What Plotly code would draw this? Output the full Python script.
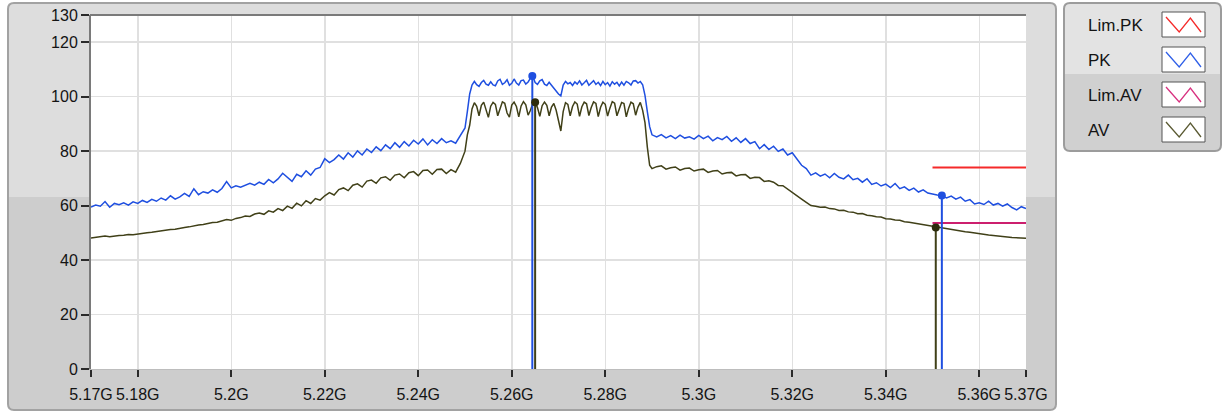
import numpy as np
import plotly.graph_objects as go

# ---------------- data ----------------
# frequency grid (GHz): 5.170-5.249 step 1 MHz, 5.2500-5.2895 step 0.5 MHz, 5.290-5.370 step 1 MHz
freq_a = np.round(np.arange(5.170, 5.2495, 0.001), 4)
freq_b = np.round(np.arange(5.2500, 5.28975, 0.0005), 4)
freq_c = np.round(np.arange(5.290, 5.3705, 0.001), 4)

pk_a = [59.5, 60.2, 59.8, 61.5, 59.4, 60.8, 60.3, 61.0, 60.2, 61.4,
        60.8, 61.9, 61.2, 62.3, 61.6, 62.8, 62.0, 63.6, 62.4, 63.2,
        64.5, 63.4, 66.2, 64.0, 65.1, 64.6, 65.8, 64.9, 66.3, 68.8,
        66.5, 67.3, 66.8, 67.6, 68.2, 67.5, 68.6, 67.8, 69.6, 68.4,
        69.8, 71.9, 70.3, 68.9, 71.5, 70.6, 72.8, 71.2, 73.4, 74.0,
        77.2, 75.8, 76.9, 78.6, 77.1, 79.4, 77.8, 80.1, 78.6, 80.8,
        79.5, 81.6, 80.2, 82.3, 80.9, 83.1, 81.4, 83.5, 81.9, 84.0,
        82.6, 84.5, 82.3, 84.2, 82.8, 84.6, 83.1, 83.8, 82.9, 85.6]
pk_b = [88.5, 94.5, 101.0, 104.3, 105.6, 104.4, 103.8, 105.2, 106.0, 104.6,
        104.2, 105.5, 104.3, 104.0, 105.8, 106.4, 104.5, 105.1, 106.2, 104.2,
        104.9, 106.5, 105.0, 104.3, 105.9, 106.1, 104.6, 105.4, 106.8, 107.5,
        105.2, 104.5, 105.8, 106.3, 104.6, 104.1, 105.3, 104.2, 103.0, 102.2,
        101.0, 100.3, 104.3, 105.6, 104.7, 105.2, 104.1, 105.4, 104.6, 105.8,
        104.3, 105.1, 106.0, 104.2, 104.9, 105.9, 104.5, 105.3, 104.1, 105.6,
        104.4, 105.2, 103.9, 105.5, 104.6, 105.3, 104.0, 105.4, 104.2, 105.6,
        105.1, 104.3, 105.8, 105.9, 105.0, 105.6, 104.4, 100.5, 94.5, 89.0]
pk_c = [86.0, 85.2, 86.1, 84.9, 85.7, 84.6, 85.9, 84.8, 85.3, 84.4,
        85.8, 84.6, 85.5, 83.8, 85.0, 84.2, 85.4, 83.6, 84.9, 83.2,
        84.6, 82.8, 83.5, 80.9, 82.4, 80.6, 81.8, 79.9, 80.8, 78.6,
        79.4, 77.2, 74.8, 73.6, 71.2, 72.0, 70.8, 71.6, 70.2, 71.8,
        70.4, 69.8, 71.2, 69.5, 70.0, 68.6, 69.9, 67.8, 68.4, 67.2,
        67.9, 66.6, 68.1, 66.2, 66.9, 65.6, 66.4, 65.0, 65.8, 64.6,
        64.2, 63.9, 63.7, 62.8, 63.5, 62.4, 63.1, 61.6, 62.2, 60.6,
        61.0, 60.4, 61.6, 60.2, 60.8, 59.8, 60.6, 59.3, 58.4, 59.6,
        58.9]

av_a = [48.1, 48.3, 48.4, 48.8, 48.6, 48.9, 49.0, 49.1, 49.4, 49.3,
        49.6, 49.8, 50.0, 50.2, 50.5, 50.6, 50.9, 51.2, 51.3, 51.7,
        52.0, 52.2, 52.6, 52.9, 53.1, 53.5, 53.8, 53.9, 54.5, 54.9,
        54.6, 55.3, 55.6, 56.2, 56.0, 56.9, 57.3, 56.8, 58.1, 57.6,
        58.9, 58.2, 59.8, 59.0, 60.9, 59.9, 61.8, 60.8, 62.6, 62.0,
        63.6, 64.8, 63.9, 65.9, 66.5, 65.5, 67.5, 68.0, 66.8, 69.0,
        69.4, 68.2, 70.2, 70.6, 69.3, 71.2, 71.6, 70.2, 72.1, 72.5,
        71.0, 72.9, 73.1, 71.5, 73.3, 73.4, 71.8, 73.2, 72.3, 75.5]
av_b = [80.0, 86.0, 89.5, 95.5, 97.8, 96.5, 93.0, 96.8, 98.0, 95.5,
        92.4, 96.5, 97.9, 97.2, 93.0, 95.6, 98.1, 97.6, 94.0, 92.5,
        96.9, 98.0, 96.4, 92.6, 96.6, 98.2, 97.0, 93.2, 95.0, 97.5,
        98.0, 96.0, 92.8, 96.7, 98.0, 96.8, 93.0, 96.2, 97.5, 95.0,
        91.0, 87.4, 94.5, 97.8, 97.2, 93.0, 96.4, 98.1, 97.3, 92.8,
        96.3, 98.0, 97.4, 93.1, 96.0, 98.1, 97.5, 92.7, 96.1, 98.0,
        97.2, 92.9, 95.8, 98.2, 97.6, 93.0, 95.5, 97.9, 97.5, 92.6,
        95.8, 98.0, 97.4, 93.2, 96.2, 97.9, 95.0, 90.5, 81.5, 74.8]
av_c = [73.6, 74.3, 74.6, 73.4, 73.9, 74.2, 73.0, 73.6, 73.8, 72.7,
        73.2, 73.4, 72.2, 72.7, 72.9, 71.6, 72.1, 72.2, 70.9, 71.3,
        71.4, 70.0, 70.4, 70.3, 68.9, 69.1, 68.6, 67.4, 67.3, 66.0,
        65.0, 63.6, 62.4, 61.2, 60.0, 59.8, 59.4, 59.5, 58.9, 58.8,
        58.2, 58.3, 57.7, 57.6, 57.0, 57.1, 56.5, 56.3, 55.9, 55.8,
        55.2, 55.1, 54.7, 54.6, 54.1, 53.9, 53.6, 53.3, 52.9, 52.6,
        52.3, 52.0, 51.7, 51.4, 51.2, 50.9, 50.7, 50.4, 50.2, 49.9,
        49.6, 49.5, 49.2, 49.0, 48.9, 48.6, 48.5, 48.3, 48.2, 48.1,
        48.0]

lim_f = [5.35, 5.37]
lim_pk = [74.0, 74.0]
lim_av = [53.6, 53.6]

mark_pk_f = [5.2644, 5.3520]
mark_pk_v = [107.6, 63.7]
mark_av_f = [5.2650, 5.3507]
mark_av_v = [98.0, 52.0]

x_tickvals = [5.17, 5.18, 5.20, 5.22, 5.24, 5.26, 5.28, 5.30, 5.32, 5.34, 5.36, 5.37]
x_ticktext = ["5.17G", "5.18G", "5.2G", "5.22G", "5.24G", "5.26G", "5.28G",
              "5.3G", "5.32G", "5.34G", "5.36G", "5.37G"]
y_tickvals = [0, 20, 40, 60, 80, 100, 120, 130]

legend_names = ["Lim.PK", "PK", "Lim.AV", "AV"]

# ---------------- style ----------------
C_PK = "#1f4fe0"
C_AV = "#404018"
C_LIMPK = "#f52a2a"
C_LIMAV = "#cc1f6e"
C_LEG = [C_LIMPK, "#2f5fe8", "#d8307f", "#5a5a32"]
FONT = "Liberation Sans, Arial, sans-serif"
TXT = "#141414"

freq = np.concatenate([freq_a, freq_b, freq_c])
pk = np.array(pk_a + pk_b + pk_c)
av = np.array(av_a + av_b + av_c)

fig = go.Figure()
fig.add_trace(go.Scatter(x=lim_f, y=lim_pk, mode="lines", line=dict(color=C_LIMPK, width=2), name="Lim.PK"))
fig.add_trace(go.Scatter(x=freq, y=pk, mode="lines", line=dict(color=C_PK, width=1.5), name="PK"))
fig.add_trace(go.Scatter(x=lim_f, y=lim_av, mode="lines", line=dict(color=C_LIMAV, width=2), name="Lim.AV"))
fig.add_trace(go.Scatter(x=freq, y=av, mode="lines", line=dict(color=C_AV, width=1.5), name="AV"))

for f, v in zip(mark_pk_f, mark_pk_v):
    fig.add_trace(go.Scatter(x=[f, f], y=[0, v], mode="lines", line=dict(color=C_PK, width=2)))
    fig.add_trace(go.Scatter(x=[f], y=[v], mode="markers", marker=dict(color=C_PK, size=8)))
for f, v in zip(mark_av_f, mark_av_v):
    fig.add_trace(go.Scatter(x=[f, f], y=[0, v], mode="lines", line=dict(color=C_AV, width=2)))
    fig.add_trace(go.Scatter(x=[f], y=[v], mode="markers", marker=dict(color="#2c2c0c", size=8)))

# ---------------- layout geometry (pixels -> paper) ----------------
W, H = 1223, 414
L, R, T, B = 91, 1026, 15, 369


def PX(px):
    return (px - L) / (R - L)


def PY(py):
    return (B - py) / (B - T)


def pt(x, y):
    return f"{PX(x):.5f},{PY(y):.5f}"


def rr_path(x0, y0, x1, y1, r, top=True, bottom=True):
    rt = r if top else 0
    rb = r if bottom else 0
    p = f"M{pt(x0 + rt, y0)} L{pt(x1 - rt, y0)} Q{pt(x1, y0)} {pt(x1, y0 + rt)} "
    p += f"L{pt(x1, y1 - rb)} Q{pt(x1, y1)} {pt(x1 - rb, y1)} "
    p += f"L{pt(x0 + rb, y1)} Q{pt(x0, y1)} {pt(x0, y1 - rb)} "
    p += f"L{pt(x0, y0 + rt)} Q{pt(x0, y0)} {pt(x0 + rt, y0)} Z"
    return p


shapes = []


def add_path(path, fill=None, line=None, lw=0):
    shapes.append(dict(type="path", path=path, xref="paper", yref="paper", layer="below",
                       fillcolor=fill if fill else "rgba(0,0,0,0)",
                       line=dict(color=line if line else "rgba(0,0,0,0)", width=lw)))


# main panel
add_path(rr_path(8, 3, 1056, 197, 6, True, False), fill="#dddddd")
add_path(rr_path(8, 197, 1056, 410, 6, False, True), fill="#cdcdcd")
add_path(rr_path(8, 3, 1056, 410, 6), line="#a2a2a2", lw=2)
# plot area
add_path(f"M{pt(L, T)} L{pt(R, T)} L{pt(R, B)} L{pt(L, B)} Z", fill="#ffffff")
# legend panel
add_path(rr_path(1064, 3, 1221, 74, 6, True, False), fill="#e3e3e3")
add_path(rr_path(1064, 74, 1221, 151, 6, False, True), fill="#d0d0d0")
add_path(rr_path(1064, 3, 1221, 151, 6), line="#9c9c9c", lw=2)

# top border line of the plot area
shapes.append(dict(type="line", xref="paper", yref="paper", x0=PX(L - 1), x1=1, y0=1, y1=1,
                   line=dict(color="#7a7a7a", width=2), layer="above"))

annotations = []
box_rows = [(12, 37), (47, 72), (82, 107), (117, 142)]
for name, col, (y0, y1) in zip(legend_names, C_LEG, box_rows):
    bx0, bx1 = 1162, 1205
    shapes.append(dict(type="rect", xref="paper", yref="paper", x0=PX(bx0), x1=PX(bx1),
                       y0=PY(y1), y1=PY(y0), fillcolor="#ffffff",
                       line=dict(color="#555555", width=1), layer="above"))
    w = bx1 - bx0
    zz = [(bx0 + 4, y0 + 5), (bx0 + 0.40 * w, y1 - 5), (bx0 + 0.66 * w, y0 + 6),
          (bx1 - 4, y1 - 5)]
    path = "M" + " L".join(pt(x, y) for x, y in zz)
    shapes.append(dict(type="path", path=path, xref="paper", yref="paper",
                       line=dict(color=col, width=1.3), layer="above"))
    annotations.append(dict(text=name, x=PX(1086), y=PY((y0 + y1) / 2 + 1), xref="paper", yref="paper",
                            xanchor="left", yanchor="middle", showarrow=False,
                            font=dict(family=FONT, size=17, color=TXT)))

fig.update_layout(
    width=W, height=H,
    margin=dict(l=L, r=W - R, t=T, b=H - B, pad=0, autoexpand=False),
    paper_bgcolor="#ffffff",
    plot_bgcolor="rgba(0,0,0,0)",
    showlegend=False,
    hovermode=False,
    shapes=shapes,
    annotations=annotations,
    font=dict(family=FONT, size=16, color=TXT),
    xaxis=dict(range=[5.17, 5.37], tickvals=x_tickvals, ticktext=x_ticktext,
               showgrid=True, gridcolor="#e0e0e0", gridwidth=1.5,
               showline=True, linecolor="#bdbdbd", linewidth=1,
               ticks="outside", ticklen=7, tickwidth=2, tickcolor="#2a2a2a",
               ticklabelstandoff=4,
               zeroline=False, tickfont=dict(family=FONT, size=16, color=TXT)),
    yaxis=dict(range=[0, 130], tickvals=y_tickvals,
               showgrid=True, gridcolor="#e0e0e0", gridwidth=1.5,
               showline=True, linecolor="#7a7a7a", linewidth=2,
               ticks="outside", ticklen=8, tickwidth=2, tickcolor="#2a2a2a",
               zeroline=False, tickfont=dict(family=FONT, size=16, color=TXT)),
)

# remove the browser's default 8px page margin so the figure sits at the window origin
fig.write_html("out.html", config={"displayModeBar": False, "staticPlot": True},
               post_script="document.body.style.margin='0px';")
